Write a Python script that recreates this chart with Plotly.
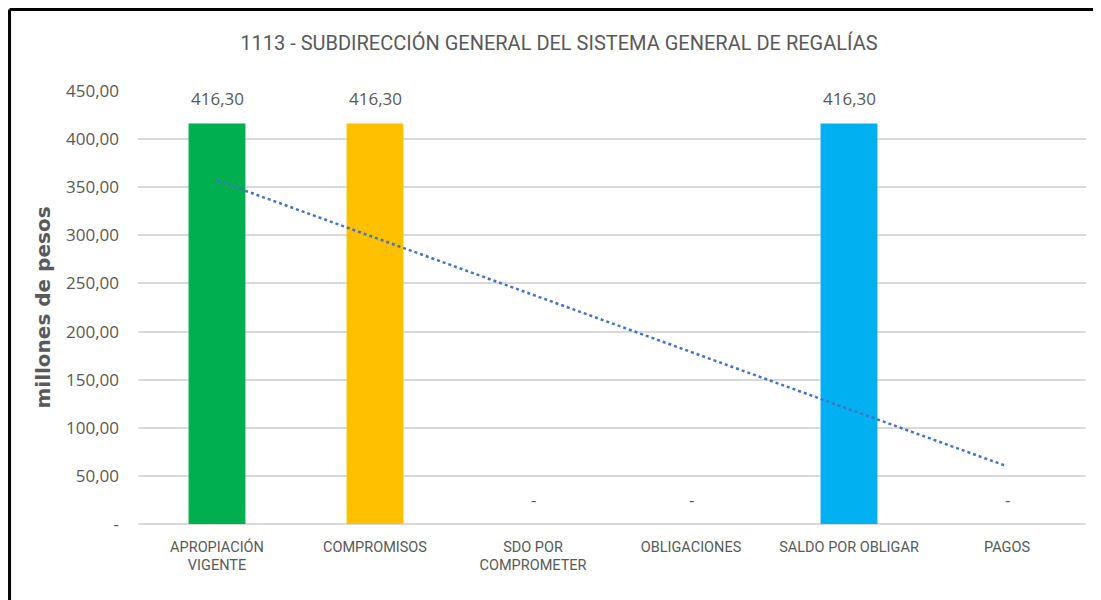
import plotly.graph_objects as go

# ── data ─────────────────────────────────────────────
categorias = ['APROPIACIÓN<br>VIGENTE', 'COMPROMISOS', 'SDO POR<br>COMPROMETER',
              'OBLIGACIONES', 'SALDO POR OBLIGAR', 'PAGOS']
valores = [416.30, 416.30, 0, 0, 416.30, 0]
etiquetas = ['416,30', '416,30', '-', '-', '416,30', '-']
colores = ['#00B050', '#FFC000', '#A5A5A5', '#A5A5A5', '#00B0F0', '#A5A5A5']

# línea de tendencia (extremos)
tendencia_x = [categorias[0], categorias[-1]]
tendencia_y = [357, 60]

ticks_y = [0, 50, 100, 150, 200, 250, 300, 350, 400, 450]
ticks_txt = ['-', '50,00', '100,00', '150,00', '200,00', '250,00',
             '300,00', '350,00', '400,00', '450,00']

GRIS = '#595959'
NARROW = 'Roboto, sans-serif'
CALIBRI = 'Open Sans, sans-serif'

# ── figura ───────────────────────────────────────────
fig = go.Figure()
fig.add_trace(go.Bar(
    x=categorias, y=valores,
    marker=dict(color=colores, line=dict(width=0)),
    width=0.36, hoverinfo='x+y', showlegend=False
))
fig.add_trace(go.Scatter(
    x=tendencia_x, y=tendencia_y, mode='lines',
    line=dict(color='#4472C4', width=2.5, dash='dot'),
    hoverinfo='skip', showlegend=False
))

for c, v, t in zip(categorias, valores, etiquetas):
    fig.add_annotation(x=c, y=v, text=t, showarrow=False, yshift=25,
                       font=dict(family=CALIBRI, size=17, color=GRIS))

# borde del área del gráfico
fig.add_shape(type='line', xref='paper', yref='paper',
              x0=-0.1355, x1=-0.1355, y0=-0.2, y1=1.1882,
              line=dict(color='black', width=3))
fig.add_shape(type='line', xref='paper', yref='paper',
              x0=-0.1355, x1=1.02, y0=1.1882, y1=1.1882,
              line=dict(color='black', width=3))

fig.update_layout(
    width=1093, height=592,
    margin=dict(l=130, r=15, t=83, b=76),
    paper_bgcolor='white', plot_bgcolor='white',
    separators=',.',
    title=dict(text='1113 - SUBDIRECCIÓN GENERAL DEL SISTEMA GENERAL DE REGALÍAS',
               x=0.444, xref='paper', xanchor='center', y=0.941, yanchor='middle',
               font=dict(family=NARROW, size=20, color=GRIS)),
    xaxis=dict(type='category', showgrid=False, showline=False, ticks='',
               ticklabelstandoff=12,
               tickfont=dict(family=NARROW, size=14.5, color=GRIS)),
    yaxis=dict(range=[0, 450], tickvals=ticks_y, ticktext=ticks_txt,
               showgrid=True, gridcolor='#D9D9D9', gridwidth=1.5,
               zeroline=True, zerolinecolor='#D9D9D9', zerolinewidth=1.5,
               ticks='', ticklabelstandoff=18,
               tickfont=dict(family=CALIBRI, size=17, color=GRIS),
               title=dict(text='<b>millones de pesos</b>', standoff=9,
                          font=dict(family='DejaVu Sans, sans-serif', size=20, color=GRIS))),
)

fig.write_html('out.html')
